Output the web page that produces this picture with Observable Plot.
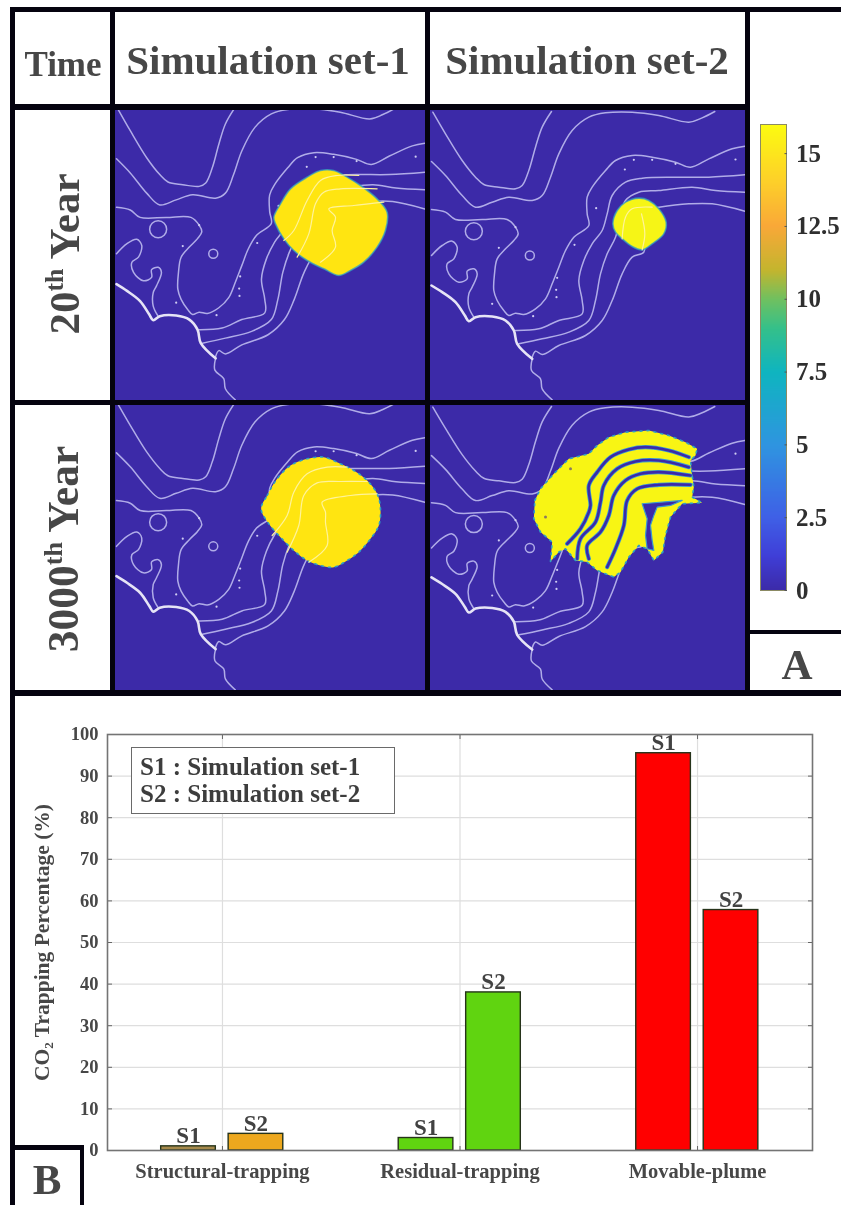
<!DOCTYPE html>
<html>
<head>
<meta charset="utf-8">
<script src="https://cdn.jsdelivr.net/npm/d3@7"></script>
<script src="https://cdn.jsdelivr.net/npm/@observablehq/plot@0.6"></script>
<style>
html,body{margin:0;padding:0;background:#fff}
#page{position:relative;width:841px;height:1205px;overflow:hidden;background:#fff;font-family:"Liberation Serif",serif;font-weight:700;color:#474747;filter:blur(.35px)}
#page>svg,#page>figure,.abs{position:absolute}
.bar{position:absolute;background:#05030f}
.t{position:absolute;white-space:nowrap;line-height:1}
.rot{transform:translate(-50%,-50%) rotate(-90deg);transform-origin:center}
.rot sup{font-size:.6em;line-height:0;vertical-align:.62em}
</style>
</head>
<body>
<div id="page"></div>
<script>
// ---------- Bar chart data ----------
const categories = ["Structural-trapping", "Residual-trapping", "Movable-plume"];
const s1Values = [1, 3, 95.5];
const s2Values = [4, 38, 57.8];
const s1Colors = ["#a68a4c", "#60d410", "#ff0000"];
const s2Colors = ["#eda81e", "#60d410", "#ff0000"];
const yTicks = [0, 10, 20, 30, 40, 50, 60, 70, 80, 90, 100];
const legendLines = ["S1 : Simulation set-1", "S2 : Simulation set-2"];

// ---------- Colour bar ----------
const colorbarTicks = [0, 2.5, 5, 7.5, 10, 12.5, 15];
const colorStops = [0, 1.2, 2.5, 5, 7.5, 9, 10, 11, 12.5, 14, 16];
const colorValues = ["#3c2aa8", "#3f3fd8", "#3f60e6", "#2f95e0", "#0fb5c0", "#35c08a", "#70c060", "#c4b52e", "#f9a838", "#fdcf2a", "#fcfc10"];

// ---------- Map contours (map units) ----------
const contourA = [[22,335],[60,400],[110,480],[150,530],[175,552],[220,560],[270,565],[290,555],[310,510],[330,440],[350,380],[378,333]];
const contourB = [[18,483],[60,525],[110,585],[150,620],[200,605],[250,590],[320,600],[350,585],[375,530],[400,460],[440,390],[490,350],[540,337],[620,335],[700,345],[790,365],[830,352],[868,333]];
const contourC = [[18,627],[60,635],[90,657],[170,657],[245,657],[270,680],[278,700],[265,720],[240,745],[215,775],[207,820],[205,870],[215,900],[235,930],[250,945],[270,938],[295,942],[330,925],[360,895],[380,850],[400,800],[420,750],[445,710],[490,675],[485,640],[485,590],[500,560],[540,510],[570,480],[620,465],[680,470],[750,485],[795,500],[850,475],[920,445],[958,437]];
const contourD = [[270,990],[340,985],[400,960],[470,940],[470,900],[460,840],[475,780],[500,730],[530,690],[545,640],[560,585],[600,545],[650,533],[750,530],[850,530],[958,523]];
const contourE = [[280,1030],[350,1015],[430,995],[490,960],[510,900],[525,820],[545,760],[570,710],[585,650],[600,600],[640,575],[700,570],[800,560],[870,570],[958,575]];
const contourF = [[320,1070],[330,1052],[350,1062],[400,1035],[480,1005],[530,960],[560,900],[590,820],[620,770],[655,755],[655,700],[655,660],[648,630],[700,620],[790,610],[860,610],[958,632]];
const contourH = [[18,765],[50,735],[80,722],[95,740],[85,775],[65,790],[70,820],[100,845],[125,835],[125,812],[145,805],[155,820],[140,860],[130,880],[130,920],[145,950]];
const riverTail = [[320,1075],[318,1110],[345,1135],[350,1165],[380,1198]];
const coast = [[18,855],[50,875],[90,905],[118,945],[130,962],[150,950],[200,948],[240,960],[265,990],[275,1030],[320,1075]];
const loopBig = [[145,692]];
const loopSmall = [[313,765]];
const specks = [[598,507],[680,478],[625,478],[930,477],[512,623],[270,680],[220,742],[447,733],[395,832],[392,868],[393,890],[323,947],[750,490],[200,910]];

// ---------- Plume outlines, traced per panel ----------
const plumeA = [[820,650],[840,610],[870,565],[920,530],[960,510],[1000,510],[1040,530],[1080,555],[1130,595],[1160,635],[1155,690],[1130,740],[1090,785],[1050,810],[1015,825],[970,805],[920,780],[880,750],[850,715],[825,670]];
const innerA = [
  [[850,720],[880,690],[920,600],[960,540],[1010,525],[1075,525]],
  [[890,770],[925,700],[945,610],[970,575],[1020,565],[1130,565]],
  [[960,785],[1005,740],[995,690],[1005,650],[985,625],[1060,615],[1150,605]]
];
const plumeB = [[562,670],[575,630],[600,605],[640,593],[670,600],[700,625],[722,665],[715,700],[680,730],[650,748],[620,738],[590,715],[570,695]];
const innerB = [
  [[590,715],[600,650],[620,625],[680,620]],
  [[650,748],[658,700],[648,640]]
];
const plumeC = [[782,340],[800,300],[830,250],[870,210],[920,190],[970,185],[1020,205],[1060,225],[1100,255],[1130,295],[1140,340],[1135,390],[1110,430],[1075,470],[1040,495],[1000,515],[960,510],[920,495],[880,465],[840,425],[805,385]];
const innerC = [
  [[815,420],[860,360],[880,290],[920,235],[980,215],[1040,215]],
  [[860,470],[895,390],[910,300],[950,262],[1020,258],[1100,258]],
  [[925,500],[980,450],[975,380],[975,350],[965,320],[1050,300],[1130,295]]
];
const plumeD = [[28,225],[45,190],[85,145],[130,100],[190,85],[215,60],[250,35],[300,20],[370,15],[430,30],[480,50],[515,70],[510,90],[495,105],[500,150],[505,185],[500,215],[530,232],[470,235],[435,275],[420,330],[412,380],[385,405],[365,370],[340,360],[310,395],[285,440],[265,455],[215,435],[185,410],[150,405],[120,370],[100,380],[75,408],[80,350],[45,320],[25,280]];
const stripesD = [
  [[125,355],[165,310],[190,260],[195,240],[190,180],[215,140],[255,95],[310,72],[360,65],[430,75],[490,95]],
  [[155,400],[165,340],[210,290],[225,230],[235,180],[275,130],[330,108],[400,105],[490,125]],
  [[190,400],[185,360],[225,320],[250,270],[265,210],[300,165],[345,145],[400,140],[495,150]],
  [[245,425],[270,370],[295,300],[305,225],[335,190],[400,178],[495,178]]
];
const notchD = [[350,235],[470,225],[435,240],[395,245],[385,270],[375,300],[380,345],[385,375],[365,370],[360,330],[365,280]];
const darkSpecksD = [[135,130],[60,275]];

const page = document.getElementById("page");
function add(el, left, top) { el.style.position = "absolute"; el.style.left = left + "px"; el.style.top = top + "px"; page.appendChild(el); return el; }

// trace-to-map conversions per panel
const fromA = ([x, y]) => [15 + (x - 345) * 1.016, 340 + (y - 330) * 860 / 870];
const fromB = ([x, y]) => [x, y];
const fromC = ([x, y]) => [15 + (x - 345) * 1.016, 340 + (y - 30) * 860 / 855];
const fromD = ([x, y]) => [x + 300, y * 1.017 + 391];

const contours = [contourA, contourB, contourC, contourD, contourE, contourF, contourH, riverTail];
const lineColor = "#b0ace8";
const bg = "#3c2aa8";
const halo = "#2f9fc4";

function mapPanel({left, top, w, h, yDomain, plume, inner, fill, curve, extra, rough}) {
  const marks = [];
  for (const c of contours) marks.push(Plot.line(c, {curve: "catmull-rom", stroke: lineColor, strokeWidth: 1.5, clip: true}));
  marks.push(Plot.line(coast, {curve: "catmull-rom", stroke: "#e6e4f6", strokeWidth: 2.6, clip: true}));
  marks.push(Plot.dot(loopBig, {r: 8.5, stroke: lineColor, strokeWidth: 1.5}));
  marks.push(Plot.dot(loopSmall, {r: 4.5, stroke: lineColor, strokeWidth: 1.5}));
  marks.push(Plot.dot(specks, {r: 1.1, fill: "#cfcdf2"}));
  marks.push(Plot.line(plume, {curve, fill, stroke: rough ? "#ffffff00" : halo, strokeWidth: 1.6, strokeOpacity: 0.75, clip: true}));
  if (rough) marks.push(Plot.line(plume, {curve, stroke: halo, strokeWidth: 1.6, strokeDasharray: "2 5", clip: true}));
  for (const c of inner) marks.push(Plot.line(c, {curve: "catmull-rom", stroke: "#fff39a", strokeWidth: 1.2, clip: true}));
  if (extra) marks.push(...extra);
  const svg = Plot.plot({
    width: w, height: h, margin: 0,
    x: {domain: [15, 960], axis: null},
    y: {domain: yDomain, reverse: true, axis: null},
    style: {background: bg},
    marks
  });
  add(svg, left, top);
}

mapPanel({left: 115, top: 110, w: 310, h: 290, yDomain: [340, 1200], plume: plumeA.map(fromA), inner: innerA.map(l => l.map(fromA)), fill: "#ffe511", curve: "catmull-rom-closed"});
mapPanel({left: 430, top: 110, w: 315, h: 290, yDomain: [330, 1200], plume: plumeB.map(fromB), inner: innerB.map(l => l.map(fromB)), fill: "#f6f516", curve: "catmull-rom-closed"});
mapPanel({left: 115, top: 405, w: 310, h: 285, yDomain: [340, 1200], plume: plumeC.map(fromC), inner: innerC.map(l => l.map(fromC)), fill: "#ffe511", curve: "catmull-rom-closed", rough: true});
const stripeMarks = [];
for (const s of stripesD.map(l => l.map(fromD))) {
  stripeMarks.push(Plot.line(s, {curve: "catmull-rom", stroke: "#3a9ad0", strokeWidth: 4.2}));
  stripeMarks.push(Plot.line(s, {curve: "catmull-rom", stroke: bg, strokeWidth: 2.6}));
}
stripeMarks.push(Plot.line(notchD.map(fromD), {curve: "linear-closed", fill: bg, stroke: "#3a9ad0", strokeWidth: 1.2}));
stripeMarks.push(Plot.dot(darkSpecksD.map(fromD), {r: 1.5, fill: "#8a7a60"}));
mapPanel({left: 430, top: 405, w: 315, h: 285, yDomain: [330, 1200], plume: plumeD.map(fromD), inner: [], fill: "#f8f514", curve: "linear-closed", extra: stripeMarks, rough: true});

// ---------- Colour bar ----------
const cbar = Plot.plot({
  width: 91, height: 480, marginTop: 14, marginBottom: 0, marginLeft: 10, marginRight: 55,
  x: {domain: [0, 1], axis: null},
  y: {domain: [0, 16], axis: null},
  color: {type: "linear", domain: colorStops, range: colorValues},
  style: {background: "transparent", overflow: "visible"},
  marks: [
    Plot.raster({fill: (x, y) => y, x1: 0, x2: 1, y1: 0, y2: 16, width: 1, height: 240, pixelSize: 1, imageRendering: "auto"}),
    Plot.frame({stroke: "#8b8a63", strokeWidth: 1}),
    Plot.axisY({anchor: "right", ticks: colorbarTicks, tickFormat: d => String(d), tickSize: -2.5, tickPadding: 12, fontSize: 25, stroke: "#555", fill: "#2f2f2f", fontFamily: "Liberation Serif", label: null})
  ]
});
add(cbar, 750, 110);

// ---------- Bar chart ----------
const rows = categories.flatMap((c, i) => [
  {pos: i + 1, set: "S1", value: s1Values[i], color: s1Colors[i], a: -0.258, b: -0.028},
  {pos: i + 1, set: "S2", value: s2Values[i], color: s2Colors[i], a: 0.026, b: 0.256}
]);
const tickFont = {fontFamily: "Liberation Serif", fontWeight: 700};
const bars = Plot.plot({
  width: 841, height: 505, marginLeft: 107, marginRight: 29, marginTop: 34, marginBottom: 55,
  x: {domain: [0.516, 3.484], axis: null},
  y: {domain: [0, 100], axis: null},
  style: {background: "transparent", overflow: "visible"},
  marks: [
    Plot.gridY(yTicks, {stroke: "#dedede", strokeOpacity: 1, strokeWidth: 1.2}),
    Plot.gridX([1, 2, 3], {stroke: "#dedede", strokeOpacity: 1, strokeWidth: 1.2}),
    Plot.axisY({ticks: yTicks, anchor: "left", tickSize: -5, tickPadding: 14, fontSize: 18.5, fill: "#474747", stroke: "#666", label: null, ...tickFont}),
    Plot.axisY({ticks: yTicks, anchor: "right", tickSize: -5, tickFormat: () => "", stroke: "#666", label: null}),
    Plot.axisX({ticks: [1, 2, 3], anchor: "bottom", tickSize: -4, tickPadding: 17, tickFormat: d => categories[d - 1], fontSize: 20.5, fill: "#474747", stroke: "#666", label: null, ...tickFont}),
    Plot.axisX({ticks: [1, 2, 3], anchor: "top", tickSize: -4, tickFormat: () => "", stroke: "#666", label: null}),
    Plot.rectY(rows, {x1: d => d.pos + d.a, x2: d => d.pos + d.b, y: "value", fill: "color", stroke: "#26331a", strokeWidth: 1.4}),
    Plot.text(rows, {x: d => d.pos + (d.a + d.b) / 2, y: "value", text: "set", dy: -3, lineAnchor: "bottom", fontSize: 23, fill: "#424242", ...tickFont}),
    Plot.frame({stroke: "#747474", strokeWidth: 1.6}),
    Plot.text(["CO₂ Trapping Percentage (%)"], {frameAnchor: "left", textAnchor: "middle", rotate: -90, dx: -65, fontSize: 21.5, fill: "#474747", ...tickFont})
  ]
});
add(bars, 0, 700);

// ---------- Table frame ----------
const rules = [
  [10, 7, 831, 5], [10, 7, 5, 1198],
  [15, 104, 730, 6], [15, 400, 730, 5], [10, 690, 831, 6],
  [110, 12, 5, 678], [425, 12, 5, 678], [745, 7, 5, 683],
  [750, 630, 91, 4],
  [15, 1145, 69, 5], [80, 1145, 4, 60]
];
for (const [l, t, w, h] of rules) {
  const d = document.createElement("div");
  d.className = "bar";
  d.style.cssText = `left:${l}px;top:${t}px;width:${w}px;height:${h}px`;
  page.appendChild(d);
}

// ---------- Text ----------
function label(html, cx, cy, size, cls) {
  const d = document.createElement("div");
  d.className = "t " + (cls || "");
  d.innerHTML = html;
  d.style.fontSize = size + "px";
  d.style.left = cx + "px";
  d.style.top = cy + "px";
  if (!cls) d.style.transform = "translate(-50%,-50%)";
  page.appendChild(d);
  return d;
}
label("Time", 63, 64, 35);
label("Simulation set-1", 268, 60, 41);
label("Simulation set-2", 587, 60, 41);
label("20<sup>th</sup> Year", 64, 254, 43, "rot");
label("3000<sup>th</sup> Year", 64, 549, 43.5, "rot");
label("A", 797, 664, 43);
label("B", 47, 1179, 43);

const box = document.createElement("div");
box.style.cssText = "position:absolute;left:131px;top:747px;width:262px;height:65px;border:1.5px solid #6a6a6a;background:#fff;box-sizing:content-box";
page.appendChild(box);
legendLines.forEach((s, i) => {
  const d = document.createElement("div");
  d.className = "t";
  d.textContent = s;
  d.style.cssText += `left:8px;top:${6 + i * 27}px;font-size:25px;color:#3d3d3d`;
  box.appendChild(d);
});
</script>
</body>
</html>
